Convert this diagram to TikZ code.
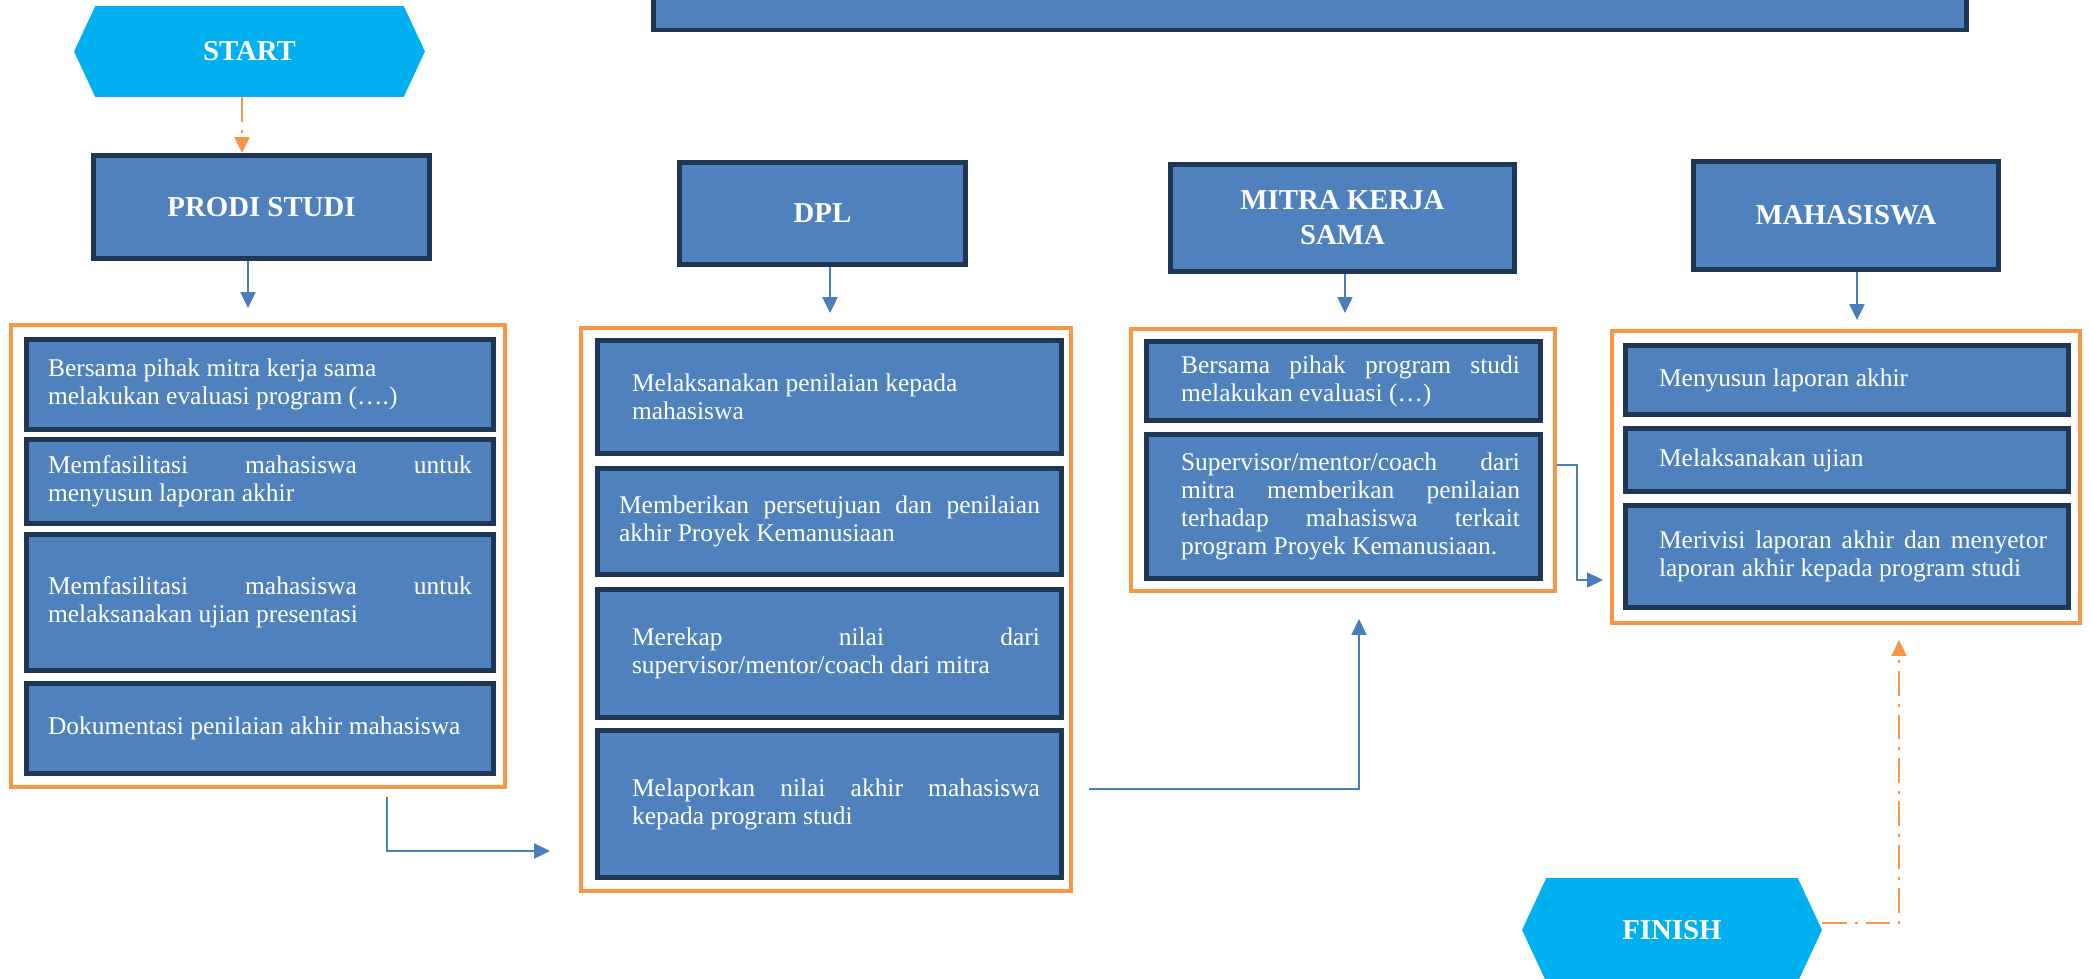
\documentclass[tikz,border=0pt]{standalone}
\usepackage{fontspec}
\setmainfont{Liberation Serif}
\usetikzlibrary{arrows.meta,shapes.symbols}

\definecolor{boxblue}{HTML}{4F81BD}
\definecolor{boxnavy}{HTML}{1F3654}
\definecolor{grporange}{HTML}{F79646}
\definecolor{hexcyan}{HTML}{00B0F0}
\definecolor{linkblue}{HTML}{4A7EBB}

\begin{document}
\begin{tikzpicture}[x=0.02cm,y=-0.02cm,
    head/.style={draw=boxnavy,fill=boxblue,line width=2.8pt,text=white,font=\fontsize{16.4}{19.8}\selectfont\bfseries,align=center},
    item/.style={draw=boxnavy,fill=boxblue,line width=2.8pt,text=white,font=\fontsize{14.5}{15.9}\selectfont,align=justify},
    grp/.style={draw=grporange,line width=2.3pt},
    hexa/.style={signal,signal to=west and east,signal pointer angle=130,fill=hexcyan,text=white,font=\fontsize{16.4}{19.8}\selectfont\bfseries},
    flowb/.style={draw=linkblue,line width=1.1pt,-{Triangle[length=9pt,width=8.5pt]}},
    flowo/.style={draw=grporange,line width=1.1pt,dash pattern=on 14pt off 4.5pt on 1.7pt off 4.5pt,-{Triangle[length=9pt,width=8.5pt]}}]
                \useasboundingbox (0,0) rectangle (2090,978);
                \clip (0,0) rectangle (2090,978);

                % mulai dan selesai
                \node[hexa,minimum width=7.02cm,minimum height=1.82cm] (start) at (249.5,51.5) {START};
                \node[hexa,minimum width=6cm,minimum height=2.08cm] (finish) at (1672,930) {FINISH};

                % judul
                \node[head,minimum width=26.26cm,minimum height=2cm] (banner) at (1310,-20) {};
                \node[head,minimum width=6.72cm,minimum height=2.06cm] (prodi) at (261.5,207) {PRODI STUDI};
                \node[head,minimum width=5.72cm,minimum height=2.04cm] (dpl) at (822.5,213.5) {DPL};
                \node[head,minimum width=6.88cm,minimum height=2.14cm] (mitra) at (1342.5,218) {MITRA KERJA\\SAMA};
                \node[head,minimum width=6.1cm,minimum height=2.16cm] (mahasiswa) at (1846,215.5) {MAHASISWA};

                % kelompok tugas
                \node[grp,minimum width=9.88cm,minimum height=9.24cm] (prodigrp) at (258,556) {};
                \node[grp,minimum width=9.8cm,minimum height=11.26cm] (dplgrp) at (826,609.5) {};
                \node[grp,minimum width=8.48cm,minimum height=5.24cm] (mitragrp) at (1343,460) {};
                \node[grp,minimum width=9.36cm,minimum height=5.84cm] (mahagrp) at (1846,477) {};

                \foreach \n/\y/\h/\t in {p1/384.5/1.8/{Bersama pihak mitra kerja sama\newline melakukan evaluasi program (….)},
                                         p2/481.5/1.68/{Memfasilitasi mahasiswa untuk\linebreak menyusun laporan akhir},
                                         p3/602.5/2.72/{Memfasilitasi mahasiswa untuk\linebreak melaksanakan ujian presentasi},
                                         p4/728.5/1.8/{Dokumentasi penilaian akhir mahasiswa}}
                {
                    \node[item,minimum width=9.34cm,minimum height=\h cm,text width=8.48cm] (\n) at (260,\y) {\t};
                }
                \foreach \n/\y/\h/\s/\t in {d1/397/2.26/0.26/{Melaksanakan penilaian kepada\newline mahasiswa},
                                            d2/521.5/2.12/0/{Memberikan persetujuan dan penilaian\linebreak akhir Proyek Kemanusiaan},
                                            d3/653.5/2.56/0.26/{Merekap nilai dari\linebreak supervisor/mentor/coach dari mitra},
                                            d4/804/2.94/0.26/{Melaporkan nilai akhir mahasiswa\linebreak kepada program studi}}
                {
                    \node[item,minimum width=9.28cm,minimum height=\h cm,text width=8.42cm] (\n) at (829.5,\y) {\leftskip=\s cm \t\par};
                }
                \foreach \n/\y/\h/\t in {m1/381/1.58/{Bersama pihak program studi\linebreak melakukan evaluasi (…)},
                                         m2/506.5/2.88/{Supervisor/mentor/coach dari\linebreak mitra memberikan penilaian\linebreak terhadap mahasiswa terkait\linebreak program Proyek Kemanusiaan.}}
                {
                    \node[item,minimum width=7.88cm,minimum height=\h cm,text width=7.06cm] (\n) at (1343.5,\y) {\leftskip=0.28cm \t\par};
                }
                \foreach \n/\y/\h/\t in {s1/380/1.38/{Menyusun laporan akhir},
                                         s2/460/1.26/{Melaksanakan ujian},
                                         s3/556.5/2.04/{Merivisi laporan akhir dan menyetor\linebreak laporan akhir kepada program studi}}
                {
                    \node[item,minimum width=8.86cm,minimum height=\h cm,text width=8cm] (\n) at (1847,\y) {\leftskip=0.24cm \t\par};
                }

                % panah
                \draw[flowo] ([xshift=-0.15cm]start.south) -- ([xshift=-0.15cm]start.south |- prodi.north);
                \foreach \a/\b/\dx/\gap in {prodi/prodigrp/-0.27/0.3,dpl/dplgrp/0.15/0.26,mitra/mitragrp/0.05/0.28,mahasiswa/mahagrp/0.22/0.18}
                {
                    \draw[flowb,shorten >=\gap cm] ([xshift=\dx cm]\a.south) -- ([xshift=\dx cm]\a.south |- \b.north);
                }
                \coordinate (c1) at (387,797);
                \coordinate (c2) at (550,851);
                \draw[flowb] (c1) |- (c2);
                \coordinate (c3) at (1089,789);
                \coordinate (c4) at (1359,619);
                \draw[flowb] (c3) -| (c4);
                \coordinate (c5) at (1603,580);
                \draw[flowb] ([yshift=-0.1cm]mitragrp.east) -- ++(20,0) |- (c5);
                \coordinate (c6) at (1899,640);
                \draw[flowo] ([yshift=0.14cm]finish.east) -| (c6);
            \end{tikzpicture}
\end{document}
